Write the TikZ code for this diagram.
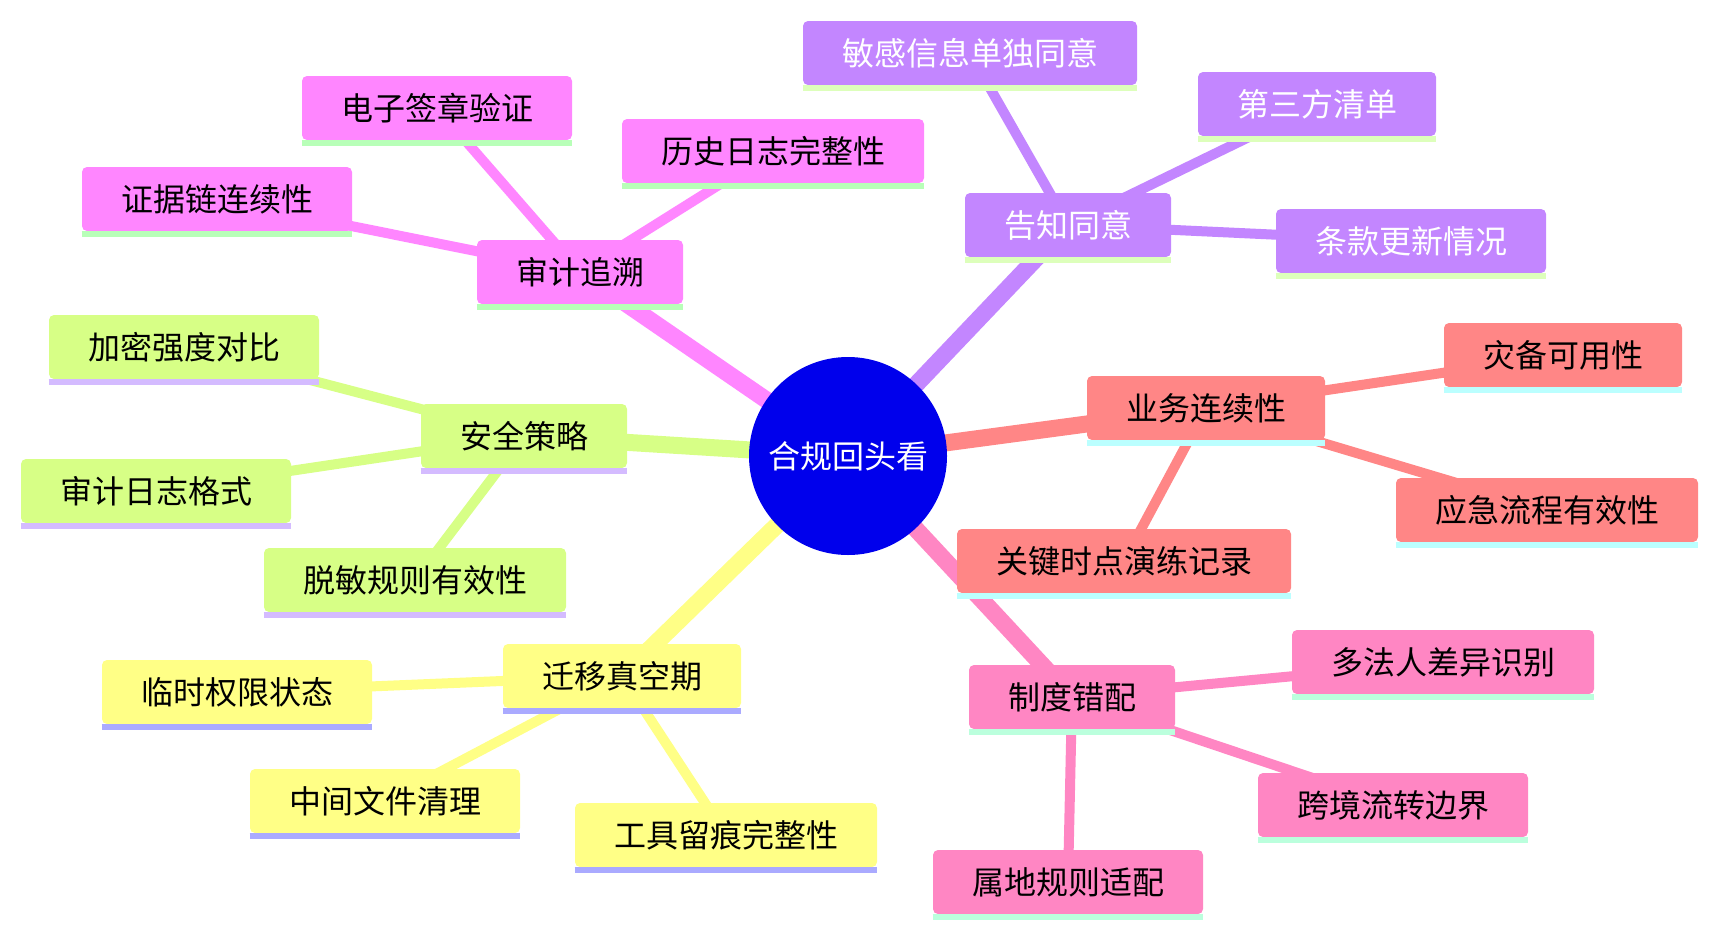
\documentclass[tikz,border=0pt]{standalone}
\usepackage{fontspec}
\newfontfamily\cjk{Noto Sans CJK SC}
\usetikzlibrary{backgrounds}
\definecolor{rootblue}{HTML}{0000EC}
\definecolor{audit}{HTML}{FF86FF}
\definecolor{auditline}{HTML}{B8FFB8}
\definecolor{consent}{HTML}{C386FF}
\definecolor{consentline}{HTML}{DDFFBB}
\definecolor{biz}{HTML}{FF8686}
\definecolor{bizline}{HTML}{BBFFFF}
\definecolor{policy}{HTML}{FF86C3}
\definecolor{policyline}{HTML}{BBFFDD}
\definecolor{migrate}{HTML}{FFFF86}
\definecolor{migrateline}{HTML}{AAAAFF}
\definecolor{secure}{HTML}{D7FF86}
\definecolor{secureline}{HTML}{D4BBFF}

\begin{document}
\begin{tikzpicture}[x=0.5pt, y=-0.5pt,
  font=\cjk\fontsize{16}{19}\selectfont,
  root/.style={circle, fill=rootblue, text=white, minimum size=99pt, inner sep=0pt},
  topic/.style={rounded corners=2.5pt, minimum height=32pt, inner xsep=19.5pt, inner ysep=0pt},
  underline/.style={append after command={([yshift=-1.5pt]\tikzlastnode.south west)
      edge[draw=#1, line width=3pt] ([yshift=-1.5pt]\tikzlastnode.south east)}},
  audbox/.style={topic, fill=audit, underline=auditline},
  conbox/.style={topic, fill=consent, text=white, underline=consentline},
  busbox/.style={topic, fill=biz, underline=bizline},
  polbox/.style={topic, fill=policy, underline=policyline},
  migbox/.style={topic, fill=migrate, underline=migrateline},
  secbox/.style={topic, fill=secure, underline=secureline},
  trunk/.style={draw=#1, line width=8.5pt},
  twig/.style={draw=#1, line width=5pt}]
\useasboundingbox (0,0) rectangle (1718,938);
\node[root] (root) at (848,456) {合规回头看};
% audit trail
\node[audbox] (aud)  at (580,272) {审计追溯};
\node[audbox] (aud1) at (437,108) {电子签章验证};
\node[audbox] (aud2) at (773,151) {历史日志完整性};
\node[audbox] (aud3) at (217,199) {证据链连续性};
% notice and consent
\node[conbox] (con)  at (1068,225) {告知同意};
\node[conbox] (con1) at (970,53)   {敏感信息单独同意};
\node[conbox] (con2) at (1317,104) {第三方清单};
\node[conbox] (con3) at (1411,241) {条款更新情况};
% business continuity
\node[busbox] (bus)  at (1206,408) {业务连续性};
\node[busbox] (bus1) at (1563,355) {灾备可用性};
\node[busbox] (bus2) at (1547,510) {应急流程有效性};
\node[busbox] (bus3) at (1124,561) {关键时点演练记录};
% policy mismatch
\node[polbox] (pol)  at (1072,697) {制度错配};
\node[polbox] (pol1) at (1443,662) {多法人差异识别};
\node[polbox] (pol2) at (1393,805) {跨境流转边界};
\node[polbox] (pol3) at (1068,882) {属地规则适配};
% migration gap
\node[migbox] (mig)  at (622,676) {迁移真空期};
\node[migbox] (mig1) at (237,692) {临时权限状态};
\node[migbox] (mig2) at (385,801) {中间文件清理};
\node[migbox] (mig3) at (726,835) {工具留痕完整性};
% security policy
\node[secbox] (sec)  at (524,436) {安全策略};
\node[secbox] (sec1) at (184,347) {加密强度对比};
\node[secbox] (sec2) at (156,491) {审计日志格式};
\node[secbox] (sec3) at (415,580) {脱敏规则有效性};
\begin{scope}[on background layer]
\foreach \b/\c in {aud/audit, con/consent, bus/biz, pol/policy, mig/migrate, sec/secure} {
  \draw[trunk=\c] (root.center) -- (\b.center);
  \foreach \k in {1,2,3}
    \draw[twig=\c] (\b.center) -- (\b\k.center);
}
\end{scope}
\end{tikzpicture}
\end{document}
